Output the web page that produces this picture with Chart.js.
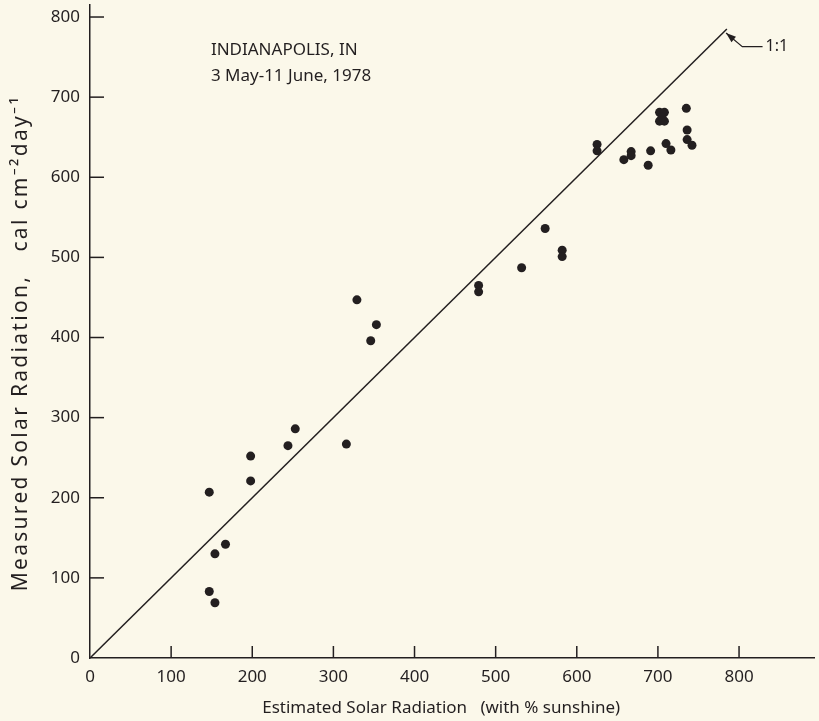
<!DOCTYPE html>
<html>
<head>
<meta charset="utf-8">
<script src="https://cdn.jsdelivr.net/npm/chart.js@4.4.1/dist/chart.umd.min.js"></script>
<style>
  html, body { margin: 0; padding: 0; background: #fbf8ea; }
  #wrap { width: 819px; height: 721px; }
</style>
</head>
<body>
<div id="wrap"><canvas id="radChart" width="819" height="721"></canvas></div>
<script>
// daily totals, cal cm-2 day-1
const estimated = [253, 244, 198, 198, 147, 167, 154, 147, 154,
    329, 353, 346, 316,
    479, 479, 532, 561, 582, 582,
    625, 625, 658, 667, 667, 688, 691,
    702, 708, 702, 708, 705,
    710, 716, 735, 736, 736, 742];
const measured = [286, 265, 252, 221, 207, 142, 130, 83, 69,
    447, 416, 396, 267,
    465, 457, 487, 536, 509, 501,
    641, 633, 622, 632, 627, 615, 633,
    681, 681, 670, 670, 675,
    642, 634, 686, 659, 647, 640];
const lineEnds = [0, 785];
const tickValues = [0, 100, 200, 300, 400, 500, 600, 700, 800];
const caption = ['INDIANAPOLIS, IN', '3 May-11 June, 1978'];
const yTitle = 'Measured Solar Radiation,   cal cm\u207B\u00B2day\u207B\u00B9';

const ink = '#231f20';
const fontFamily = "'Noto Sans', 'DejaVu Sans', sans-serif";

const points = estimated.map((x, i) => ({x: x, y: measured[i]}));
const diagonal = lineEnds.map(v => ({x: v, y: v}));

// only the labelled ticks 0..800 on both axes
function fixedTicks(scale) {
    scale.ticks = tickValues.map(v => ({value: v}));
}

// ticks drawn inward, the caption, the y title and the 1:1 pointer
const extras = {
    id: 'extras',
    afterDatasetsDraw(chart) {
        const {ctx, chartArea, scales: {x, y}} = chart;
        ctx.save();
        ctx.strokeStyle = ink;
        ctx.fillStyle = ink;
        ctx.lineWidth = 1.5;

        tickValues.slice(1).forEach(v => {
            const px = x.getPixelForValue(v);
            ctx.beginPath();
            ctx.moveTo(px, chartArea.bottom);
            ctx.lineTo(px, chartArea.bottom - 12);
            ctx.stroke();
            const py = y.getPixelForValue(v);
            ctx.beginPath();
            ctx.moveTo(chartArea.left, py);
            ctx.lineTo(chartArea.left + 14, py);
            ctx.stroke();
        });

        ctx.font = '17px ' + fontFamily;
        ctx.textBaseline = 'middle';
        ctx.textAlign = 'left';
        ctx.fillText(caption[0], x.getPixelForValue(149), y.getPixelForValue(759));
        ctx.fillText(caption[1], x.getPixelForValue(149), y.getPixelForValue(726));

        // pointer to the 1:1 line
        const tipX = x.getPixelForValue(784), tipY = y.getPixelForValue(780);
        const elbX = x.getPixelForValue(804), elbY = y.getPixelForValue(763);
        const endX = x.getPixelForValue(829);
        ctx.lineWidth = 1.2;
        ctx.beginPath();
        ctx.moveTo(tipX, tipY);
        ctx.lineTo(elbX, elbY);
        ctx.lineTo(endX, elbY);
        ctx.stroke();
        const ang = Math.atan2(tipY - elbY, tipX - elbX);
        ctx.beginPath();
        ctx.moveTo(tipX, tipY);
        ctx.lineTo(tipX - 10 * Math.cos(ang) + 3.5 * Math.sin(ang), tipY - 10 * Math.sin(ang) - 3.5 * Math.cos(ang));
        ctx.lineTo(tipX - 10 * Math.cos(ang) - 3.5 * Math.sin(ang), tipY - 10 * Math.sin(ang) + 3.5 * Math.cos(ang));
        ctx.closePath();
        ctx.fill();
        ctx.font = '16px ' + fontFamily;
        ctx.fillText('1:1', endX + 3, elbY);

        // rotated y title, spaced out like the original lettering
        ctx.translate(21, y.getPixelForValue(393));
        ctx.rotate(-Math.PI / 2);
        ctx.font = '21px ' + fontFamily;
        ctx.letterSpacing = '2.3px';
        ctx.textAlign = 'center';
        ctx.fillText(yTitle, 0, 0);
        ctx.restore();
    }
};

new Chart(document.getElementById('radChart'), {
    type: 'scatter',
    data: {
        datasets: [{
            label: 'Daily totals',
            data: points,
            backgroundColor: ink,
            borderColor: ink,
            pointRadius: 4.5,
            pointBorderWidth: 0
        }, {
            label: '1:1',
            type: 'line',
            data: diagonal,
            borderColor: ink,
            borderWidth: 1.5,
            pointRadius: 0,
            fill: false,
            tension: 0
        }]
    },
    options: {
        responsive: false,
        animation: false,
        layout: {
            padding: {top: 5, right: 0, bottom: 0, left: 0}
        },
        plugins: {
            legend: {display: false},
            tooltip: {enabled: false}
        },
        scales: {
            x: {
                type: 'linear',
                min: 0,
                max: 893,
                afterBuildTicks: fixedTicks,
                afterFit: function (scale) {
                    scale.height = 63;
                    scale.paddingLeft = 0;
                    scale.paddingRight = 0;
                },
                grid: {display: false, drawTicks: false},
                border: {display: true, color: ink, width: 1.5},
                ticks: {
                    autoSkip: false,
                    maxRotation: 0,
                    padding: 9,
                    color: ink,
                    font: {family: fontFamily, size: 17}
                },
                title: {
                    display: true,
                    text: 'Estimated Solar Radiation   (with % sunshine)     ',
                    color: ink,
                    font: {family: fontFamily, size: 17},
                    padding: {top: 0, bottom: 3}
                }
            },
            y: {
                type: 'linear',
                min: 0,
                max: 815,
                afterBuildTicks: fixedTicks,
                afterFit: function (scale) {
                    scale.width = 90;
                    scale.paddingTop = 0;
                    scale.paddingBottom = 0;
                },
                grid: {display: false, drawTicks: false},
                border: {display: true, color: ink, width: 1.5},
                ticks: {
                    autoSkip: false,
                    padding: 10,
                    color: ink,
                    font: {family: fontFamily, size: 17}
                }
            }
        }
    },
    plugins: [extras]
});
</script>
</body>
</html>
